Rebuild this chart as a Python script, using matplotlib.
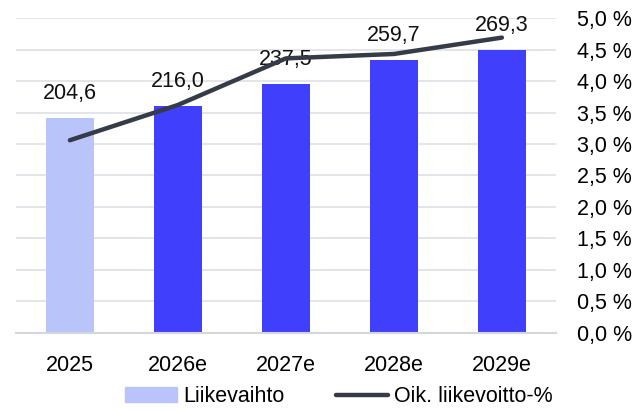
import matplotlib.pyplot as plt
from matplotlib.lines import Line2D
from matplotlib.patches import Patch
import numpy as np

# chart data
years = ["2025", "2026e", "2027e", "2028e", "2029e"]
revenue = [204.6, 216.0, 237.5, 259.7, 269.3]
ebit_margin = [3.06, 3.62, 4.36, 4.43, 4.69]
rev_labels = ["204,6", "216,0", "237,5", "259,7", "269,3"]
pct_ticks = [0.0, 0.5, 1.0, 1.5, 2.0, 2.5, 3.0, 3.5, 4.0, 4.5, 5.0]

light_blue = "#b9c5fa"
blue = "#3f3ffc"
dark = "#353b47"
grid_col = "#dde0e6"

plt.rcParams["font.family"] = ["Liberation Sans", "DejaVu Sans"]
fs = 15.5

fig = plt.figure(figsize=(6.36, 4.11), dpi=100)
ax = fig.add_axes([0.025, 0.19, 0.849, 0.766])
ax2 = ax.twinx()
x = np.arange(len(years))
colors = [light_blue] + [blue] * (len(years) - 1)

ax.bar(x, revenue, width=0.45, color=colors, zorder=2)
for xi, v, lab in zip(x, revenue, rev_labels):
    ax.annotate(lab, (xi, v), xytext=(0, 10), textcoords="offset points",
                ha="center", va="bottom", fontsize=fs, color="#111111", zorder=5)

ax.set_xlim(-0.5, len(years) - 0.5)
ax.set_ylim(0, 300)
ax.set_yticks(np.linspace(0, 300, 11))
ax.yaxis.grid(True, color=grid_col, linewidth=1.2, zorder=0)
ax.set_axisbelow(True)
ax.tick_params(axis="y", left=False, right=False, labelleft=False, labelright=False)
ax.tick_params(axis="x", length=0, pad=16, labelsize=fs)
ax.set_xticks(x)
ax.set_xticklabels(years)
for s in ["top", "right", "left"]:
    ax.spines[s].set_visible(False)
ax.spines["bottom"].set_color("#d3d6dc")
ax.spines["bottom"].set_linewidth(1.5)

ax2.plot(x, ebit_margin, color=dark, linewidth=3.2, solid_capstyle="round", zorder=4)
ax2.set_ylim(0, 5.0)
ax2.set_yticks(pct_ticks)
ax2.set_yticklabels([f"{t:.1f}".replace(".", ",") + " %" for t in pct_ticks])
ax2.tick_params(axis="y", length=0, pad=15, labelsize=fs)
for s in ax2.spines.values():
    s.set_visible(False)

handles = [Patch(color=light_blue), Line2D([0], [0], color=dark, linewidth=3.2, solid_capstyle="round")]
fig.legend(handles, ["Liikevaihto", "Oik. liikevoitto-%"], loc="lower center",
           bbox_to_anchor=(0.533, -0.038), ncol=2, frameon=False, fontsize=fs,
           handlelength=2.4, handletextpad=0.3, columnspacing=2.4)

fig.savefig("out.png", dpi=100)
